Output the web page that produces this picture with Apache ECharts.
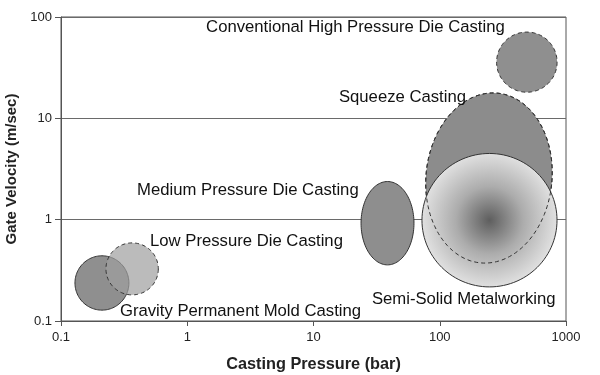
<!DOCTYPE html>
<html>
<head>
<meta charset="utf-8">
<script src="https://cdn.jsdelivr.net/npm/echarts@6/dist/echarts.min.js"></script>
<style>
html, body { margin: 0; background: #fff; }
#chart { width: 600px; height: 375px; }
</style>
</head>
<body>
<div id="chart"></div>
<script>
// process windows, drawn in this order (back to front)
var processNames = ["Gravity Permanent Mold Casting", "Low Pressure Die Casting", "Medium Pressure Die Casting",
    "Conventional High Pressure Die Casting", "Squeeze Casting", "Semi-Solid Metalworking"];
var pressureMin = [0.129, 0.227, 23.8, 282, 77.8, 72.3];
var pressureMax = [0.345, 0.59, 62.5, 850, 774, 849];
var velocityMin = [0.128, 0.181, 0.358, 18.1, 0.371, 0.217];
var velocityMax = [0.44, 0.59, 2.38, 71, 17.9, 4.5];

// where each name is written (left end of the text)
var labelPressure = [0.293, 0.507, 0.40, 1.41, 15.9, 29];
var labelVelocity = [0.1256, 0.605, 1.94, 79.6, 16.1, 0.1616];

var xTickLabels = ["0.1", "1", "10", "100", "1000"];
var yTickLabels = ["0.1", "1", "10", "100"];

var FONT = "'Liberation Sans', Arial, Helvetica, sans-serif";

var semiFill = new echarts.graphic.RadialGradient(0.5, 0.5, 0.5, [
    {offset: 0, color: "#5e5e5e"},
    {offset: 0.5, color: "#acacac"},
    {offset: 1, color: "#e0e0e0"}
]);
var shapeLooks = [
    {fill: "#8f8f8f", dash: false},
    {fill: "rgba(158,158,158,0.7)", dash: true},
    {fill: "#8e8e8e", dash: false},
    {fill: "#8f8f8f", dash: true},
    {fill: "#8c8c8c", dash: true, tilt: 0.105},
    {fill: semiFill, dash: false}
];

function ellipsePoints(api, i) {
    var lo = api.coord([pressureMin[i], velocityMin[i]]);
    var hi = api.coord([pressureMax[i], velocityMax[i]]);
    var cx = (lo[0] + hi[0]) / 2, cy = (lo[1] + hi[1]) / 2;
    var rx = Math.abs(hi[0] - lo[0]) / 2, ry = Math.abs(lo[1] - hi[1]) / 2;
    var a = shapeLooks[i].tilt || 0, pts = [];
    for (var k = 0; k < 120; k++) {
        var t = k / 120 * Math.PI * 2;
        var ex = rx * Math.cos(t), ey = ry * Math.sin(t);
        pts.push([cx + ex * Math.cos(a) - ey * Math.sin(a), cy + ex * Math.sin(a) + ey * Math.cos(a)]);
    }
    return pts;
}

function shapeItem(params, api) {
    var i = api.value(4), look = shapeLooks[i];
    return {
        type: "polygon",
        shape: {points: ellipsePoints(api, i)},
        style: {fill: look.fill, stroke: "#333", lineWidth: 1, lineDash: look.dash ? [4, 3] : null}
    };
}

function outlineItem(params, api) {
    var i = api.value(4);
    return {
        type: "polygon",
        shape: {points: ellipsePoints(api, i)},
        style: {fill: "none", stroke: "#333", lineWidth: 1, lineDash: [4, 3]}
    };
}

function labelItem(params, api) {
    var p = api.coord([api.value(0), api.value(1)]);
    return {
        type: "text",
        style: {text: processNames[api.value(2)], x: p[0], y: p[1], fill: "#111",
            font: "16.7px " + FONT, align: "left", verticalAlign: "middle"}
    };
}

var shapeData = processNames.map(function (n, i) {
    return [pressureMin[i], pressureMax[i], velocityMin[i], velocityMax[i], i];
});
var labelData = processNames.map(function (n, i) {
    return [labelPressure[i], labelVelocity[i], i];
});

var chart = echarts.init(document.getElementById("chart"), null, {renderer: "canvas"});
chart.setOption({
    animation: false,
    backgroundColor: "#fff",
    grid: {left: 61, right: 34, top: 17, bottom: 54, show: true, borderColor: "#555", borderWidth: 1,
        containLabel: false, outerBoundsMode: "none"},
    xAxis: {
        type: "log", logBase: 10, min: 0.1, max: 1000,
        name: "Casting Pressure (bar)", nameLocation: "middle", nameGap: 36,
        nameTextStyle: {fontFamily: FONT, fontSize: 16.3, fontWeight: "bold", color: "#222"},
        axisLine: {lineStyle: {color: "#555"}},
        axisTick: {show: true, length: 5, lineStyle: {color: "#555"}},
        axisLabel: {fontFamily: FONT, fontSize: 13, color: "#222", margin: 10,
            formatter: function (v, idx) { return xTickLabels[idx]; }},
        splitLine: {show: false}
    },
    yAxis: {
        type: "log", logBase: 10, min: 0.1, max: 100,
        name: "Gate Velocity (m/sec)", nameLocation: "middle", nameGap: 34,
        nameTextStyle: {fontFamily: FONT, fontSize: 15, fontWeight: "bold", color: "#222"},
        axisLine: {lineStyle: {color: "#555"}},
        axisTick: {show: true, length: 6, lineStyle: {color: "#555"}},
        axisLabel: {fontFamily: FONT, fontSize: 13, color: "#222", margin: 9,
            formatter: function (v, idx) { return yTickLabels[idx]; }},
        splitLine: {show: true, lineStyle: {color: "#6a6a6a", width: 1}}
    },
    series: [
        {type: "custom", renderItem: shapeItem, data: shapeData, encode: {x: [0, 1], y: [2, 3]}, z: 2},
        {type: "custom", renderItem: outlineItem, data: [shapeData[4]], encode: {x: [0, 1], y: [2, 3]}, z: 3},
        {type: "custom", renderItem: labelItem, data: labelData, encode: {x: 0, y: 1}, z: 4}
    ]
});
</script>
</body>
</html>
